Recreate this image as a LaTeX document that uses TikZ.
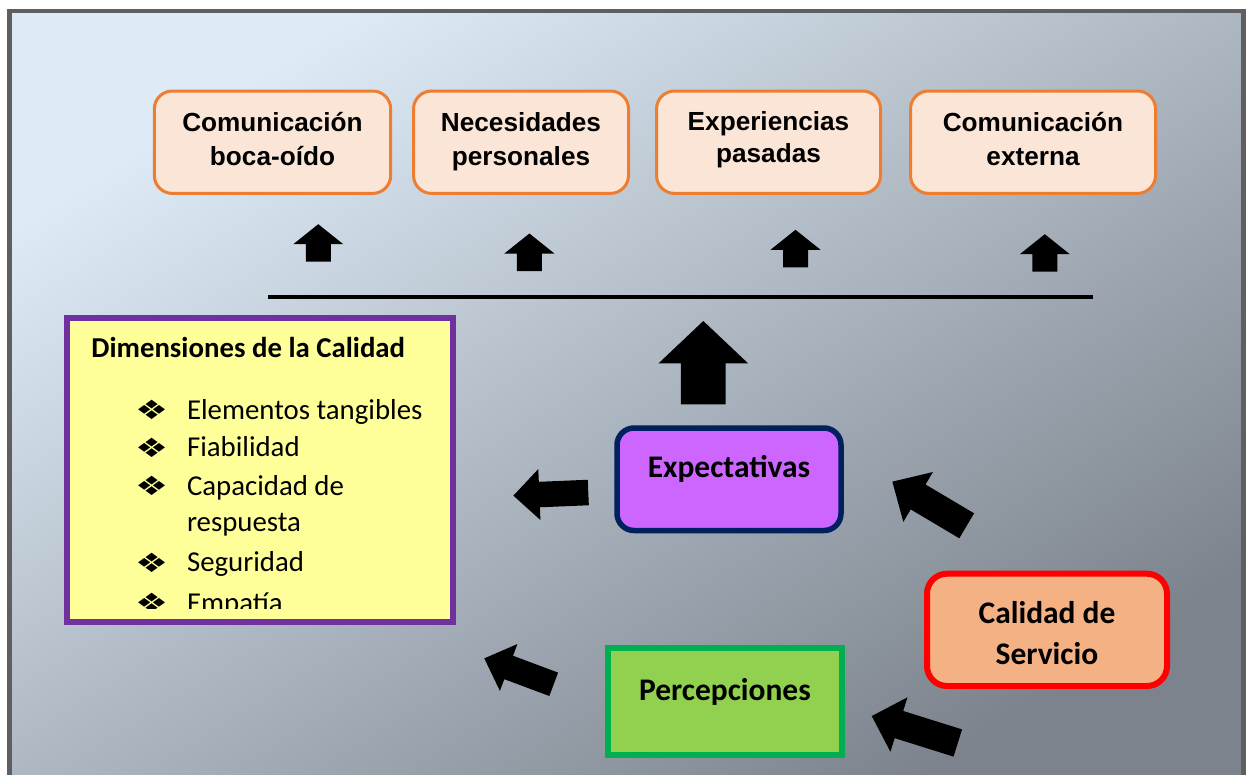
\documentclass[tikz,border=0pt]{standalone}
\usepackage{fontspec}
\setmainfont{Carlito}
\newfontfamily\arialfont{Liberation Sans}
\newfontfamily\dejavufont{DejaVu Sans}

\newlength\pxu
\setlength\pxu{0.02cm}

\definecolor{bgtop}{RGB}{222,235,247}
\definecolor{bgmid}{RGB}{184,195,207}
\definecolor{bgbot}{RGB}{124,131,140}
\definecolor{framegray}{RGB}{95,95,95}
\definecolor{orangeline}{RGB}{237,125,49}
\definecolor{orangefill}{RGB}{251,229,214}
\definecolor{expline}{RGB}{0,32,96}
\definecolor{expfill}{RGB}{204,102,255}
\definecolor{calline}{RGB}{255,0,0}
\definecolor{calfill}{RGB}{244,177,131}
\definecolor{perline}{RGB}{0,176,80}
\definecolor{perfill}{RGB}{146,208,80}
\definecolor{dimline}{RGB}{112,48,160}
\definecolor{dimfill}{RGB}{255,255,153}

% block arrow: tail x, tail y, angle, length, shaft width, head length
\newcommand{\blockarrow}[6]{%
  \fill[black, shift={(#1,#2)}, rotate=#3]
    (0,{-#5/2}) -- ({#4-#6},{-#5/2}) -- ({#4-#6},{-#5}) -- (#4,0)
    -- ({#4-#6},#5) -- ({#4-#6},{#5/2}) -- (0,{#5/2}) -- cycle;}

\tikzset{
  topbox/.style={draw=orangeline, fill=orangefill, line width=3\pxu,
    rounded corners=18\pxu, inner sep=0pt, minimum height=102.4\pxu},
  toptext/.style={anchor=base, inner sep=0pt,
    font=\arialfont\bfseries\fontsize{14.9}{18}\selectfont},
  maintext/.style={anchor=base, inner sep=0pt,
    font=\bfseries\fontsize{17.9}{22}\selectfont},
  listtext/.style={anchor=base west, inner sep=0pt,
    font=\fontsize{16.4}{20}\selectfont},
  bulletmark/.style={inner sep=0pt,
    font=\dejavufont\fontsize{21}{24}\selectfont},
}

\begin{document}
\begin{tikzpicture}[x=0.02cm, y=-0.02cm]
  \useasboundingbox (0,0) rectangle (1247,774);
  %Background
  \shade[top color=bgtop, middle color=bgmid, bottom color=bgbot, shading angle=32]
    (9.5,11) rectangle (1243.5,790);
  \draw[framegray, line width=4.5\pxu] (9.5,11) rectangle (1243.5,790);

  %Top boxes
  \node[topbox, minimum width=236.4\pxu] (boca) at (272.5,142.2) {};
  \node[toptext] (bocaA) at (272.5,131.7) {Comunicación};
  \node[toptext] (bocaB) at (272.5,165) {boca-oído};
  \node[topbox, minimum width=215\pxu] (neces) at (521,142.2) {};
  \node[toptext] (necesA) at (521,131.7) {Necesidades};
  \node[toptext] (necesB) at (521,165) {personales};
  \node[topbox, minimum width=224\pxu] (exper) at (768.5,142.2) {};
  \node[toptext] (experA) at (768.5,130) {Experiencias};
  \node[toptext] (experB) at (768.5,162) {pasadas};
  \node[topbox, minimum width=245\pxu] (extern) at (1033,142.2) {};
  \node[toptext] (externA) at (1033,131.7) {Comunicación};
  \node[toptext] (externB) at (1033,165) {externa};

  %Bar and arrows
  \coordinate (barL) at (268,297);
  \coordinate (barR) at (1093,297);
  \draw[line width=3.5\pxu] (barL) -- (barR);
  \foreach \x/\y in {318.3/261.7, 529.4/271, 795.5/267.3, 1044.8/271.7}
    \blockarrow{\x}{\y}{90}{37.5}{25}{20};
  \blockarrow{703.3}{404.3}{90}{83.3}{44.7}{42.3}
  \blockarrow{588.3}{492.5}{182.4}{75}{25.5}{26}
  \blockarrow{966.7}{525.8}{149.3}{86.5}{29}{30}
  \blockarrow{553.7}{684.3}{159.5}{74.1}{25}{26}
  \blockarrow{957.8}{743}{162.6}{90.2}{28.5}{28.5}

  %Dimensiones
  \node[draw=dimline, fill=dimfill, line width=5.5\pxu, inner sep=0pt,
    minimum width=386\pxu, minimum height=304\pxu] (dims) at (260,470) {};
  \begin{scope}
    \clip (70,321) rectangle (450,608.5);
    \node[listtext, font=\bfseries\fontsize{16.4}{20}\selectfont] (dimsT) at (91,357.7) {Dimensiones de la Calidad};
    \foreach \y/\lbl [count=\i] in {419/Elementos tangibles, 456.7/Fiabilidad, 495/Capacidad de, 571.7/Seguridad, 612/Empatía}{
      \node[bulletmark] (bul\i) at (151.7,\y-9) {\scalebox{1}[0.72]{❖}};
      \node[listtext] (dim\i) at (186.7,\y) {\lbl};
    }
    \node[listtext] (dim3b) at (186.7,531.7) {respuesta};
  \end{scope}

  %Expectativas, Calidad, Percepciones
  \node[draw=expline, fill=expfill, line width=5.5\pxu, rounded corners=17\pxu,
    inner sep=0pt, minimum width=224\pxu, minimum height=102.5\pxu] (expect) at (729,479.25) {};
  \node[maintext] (expectT) at (729,477.5) {Expectativas};
  \node[draw=calline, fill=calfill, line width=6\pxu, rounded corners=20\pxu,
    inner sep=0pt, minimum width=240\pxu, minimum height=112.3\pxu] (calidad) at (1047,629.85) {};
  \node[maintext] (calidadA) at (1047,623.3) {Calidad de};
  \node[maintext] (calidadB) at (1047,664) {Servicio};
  \node[draw=perline, fill=perfill, line width=6\pxu,
    inner sep=0pt, minimum width=234\pxu, minimum height=107.2\pxu] (percep) at (725,701.1) {};
  \node[maintext] (percepT) at (725,700) {Percepciones};
\end{tikzpicture}
\end{document}
